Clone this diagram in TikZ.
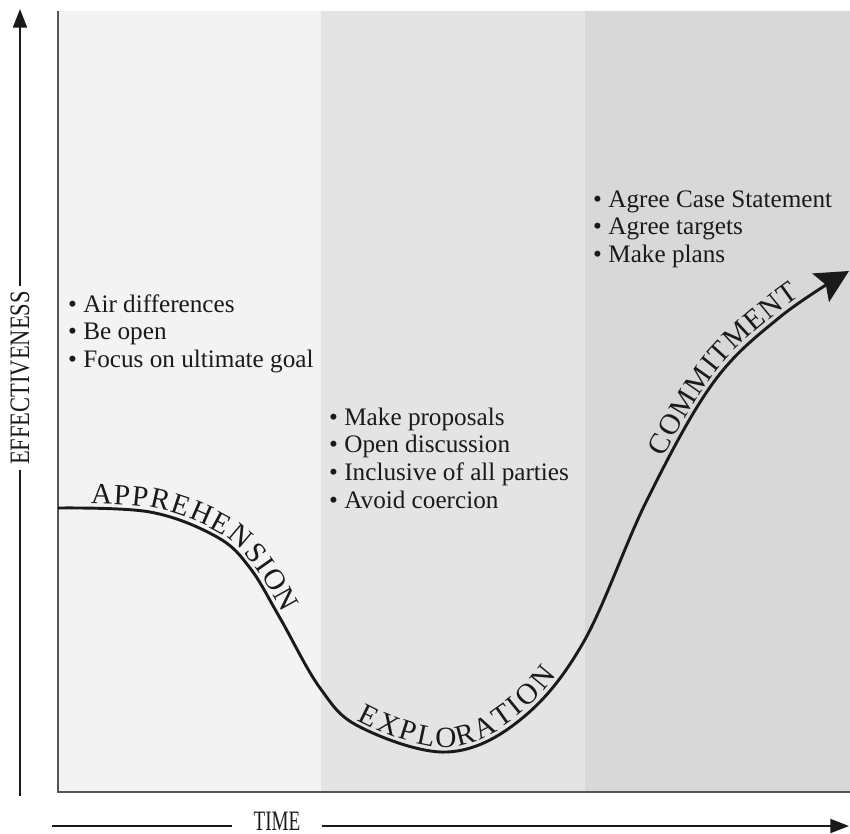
\documentclass[tikz,border=0pt]{standalone}
\usepackage{fontspec}
\setmainfont{Liberation Serif}
\newfontfamily\crvfont{Liberation Serif}
\newfontfamily\axfont[FakeStretch=0.8]{Liberation Serif}
\newfontfamily\tmfont[FakeStretch=0.68]{Liberation Serif}
\usetikzlibrary{arrows.meta,decorations.text}
\definecolor{panelA}{HTML}{F3F3F3}
\definecolor{panelB}{HTML}{E4E4E4}
\definecolor{panelC}{HTML}{D8D8D8}
\definecolor{ink}{HTML}{1A1A1A}
\definecolor{framegray}{HTML}{555555}
\newcommand\crvA{\crvfont\fontsize{25}{25}\selectfont\kern1.0pt}
\newcommand\crvB{\crvfont\fontsize{25}{25}\selectfont\kern2.7pt}
\newcommand\crvC{\crvfont\fontsize{25}{25}\selectfont\kern0.8pt}
\newcommand\curvepath{plot[smooth,tension=0.6] coordinates {(c1) (c2) (c3) (c4) (c5) (c6) (c7) (c8) (c9) (c10) (c11) (c12) (c13) (c14)}}
\newcommand\risepath{plot[smooth,tension=0.6] coordinates {(c10) (c11) (c12) (c13) (c14) (c15)}}
\tikzset{
  listtext/.style={anchor=base west, inner sep=0pt, text=ink,
    font=\fontsize{21.5}{23.8}\selectfont},
  axislabel/.style={text=ink, inner ysep=0pt, font=\axfont\fontsize{24}{24}\selectfont},
  axisline/.style={line width=1.6pt, draw=ink},
  axisarrow/.style={axisline, -{Triangle[length=16pt,width=12pt]}},
  curveline/.style={line width=2.5pt, draw=ink, -{Stealth[length=28pt,width=28pt,inset=5pt]}},
  curvelabel/.style={decorate, decoration={text along path, text color=ink, raise=4pt}},
  framestyle/.style={draw=framegray, line width=1.2pt},
}
\begin{document}
\begin{tikzpicture}[x=0.03cm,y=-0.03cm]
\useasboundingbox (0,0) rectangle (850,833);
% panels
\fill[panelA] (58,11) rectangle (321,792);
\fill[panelB] (321,11) rectangle (585,792);
\fill[panelC] (585,11) rectangle (850,792);
\draw[framestyle] (58,11) -- (58,792) -- (850,792);

% axes
\node[axislabel, rotate=90, inner xsep=4pt] (eff) at (20,378) {EFFECTIVENESS};
\coordinate (ybot) at (20,796);
\coordinate (ytop) at (20,9);
\draw[axisline] (ybot) -- (eff.west);
\draw[axisarrow] (eff.east) -- (ytop);

\node[axislabel, font=\tmfont\fontsize{24}{24}\selectfont, inner xsep=18pt] (time) at (277,821) {TIME};
\coordinate (xleft) at (52,826);
\coordinate (xright) at (849,826);
\draw[axisline] (xleft) -- (xleft -| time.west);
\draw[axisarrow] (xright -| time.east) -- (xright);

% curve
\coordinate (c1) at (58,508);
\coordinate (c2) at (150,512);
\coordinate (c3) at (217,537);
\coordinate (c4) at (250,568);
\coordinate (c5) at (280,618);
\coordinate (c6) at (320,688);
\coordinate (c7) at (360,727);
\coordinate (c8) at (447,752);
\coordinate (c9) at (520,720);
\coordinate (c10) at (583,643);
\coordinate (c11) at (647,500);
\coordinate (c12) at (713,383);
\coordinate (c13) at (780,317);
\coordinate (c14) at (849,271);
\coordinate (c15) at (930,225);
\draw[curveline] \curvepath;

\path[curvelabel, decoration={text align={left indent=27pt}, text={|\crvA|APPREHENSION}}] \curvepath;
\path[curvelabel, decoration={text align={left indent=338pt}, text={|\crvB|EXPLORATION}}] \curvepath;
\path[curvelabel, decoration={text align={left indent=172pt}, text={|\crvC|COMMITMENT}}] \risepath;

% bullet lists
\node[listtext] (listA) at (68,312) {\begin{tabular}[t]{@{}l@{}}• Air differences\\• Be open\\• Focus on ultimate goal\end{tabular}};
\node[listtext] (listB) at (329,425) {\begin{tabular}[t]{@{}l@{}}• Make proposals\\• Open discussion\\• Inclusive of all parties\\• Avoid coercion\end{tabular}};
\node[listtext] (listC) at (593,207) {\begin{tabular}[t]{@{}l@{}}• Agree Case Statement\\• Agree targets\\• Make plans\end{tabular}};
\end{tikzpicture}
\end{document}
